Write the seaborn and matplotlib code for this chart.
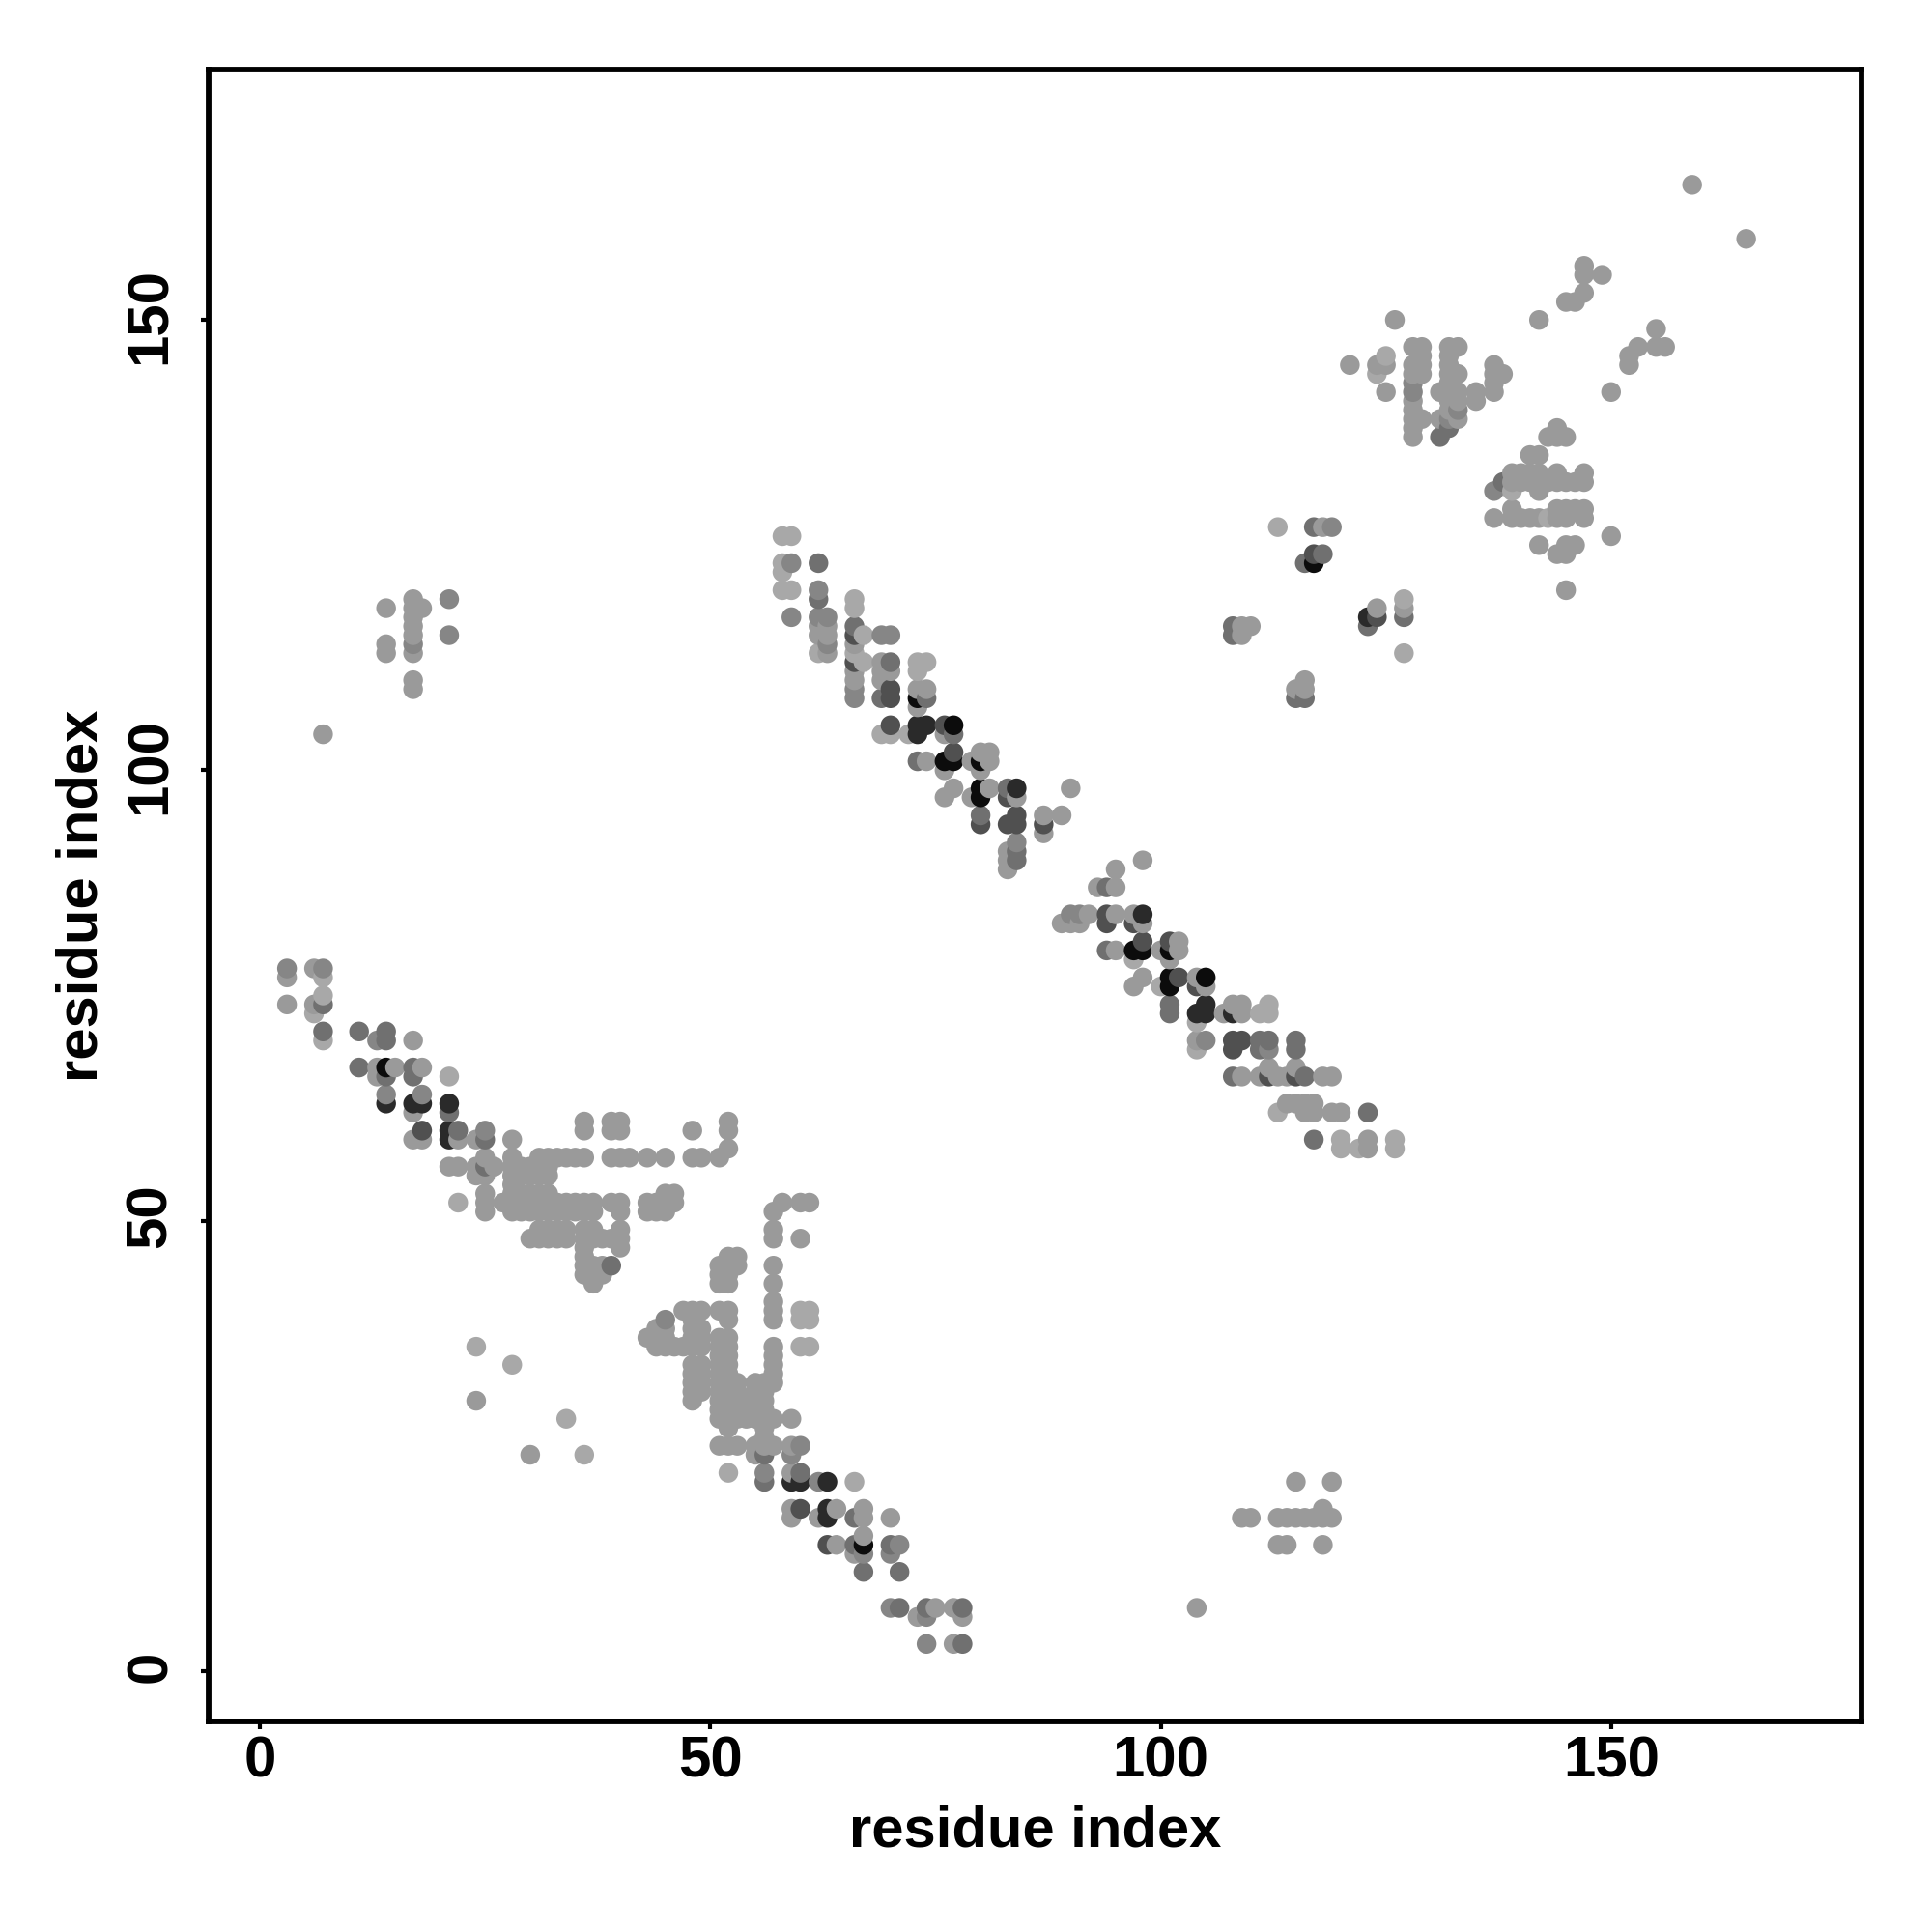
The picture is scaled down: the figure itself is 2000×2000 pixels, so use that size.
import pandas as pd
import matplotlib
matplotlib.use('Agg')
import matplotlib.pyplot as plt
from matplotlib.transforms import ScaledTranslation
import seaborn as sns

# contacts written as (residue y, [residues x]), one list per block of the map
left_block = [
    (78, [3, 6, 7]), (77, [3, 7]), (75, [7]), (74, [3, 6, 7]), (73, [6]),
    (71, [7, 11, 14]), (70, [7, 13, 14, 17]), (67, [11, 13, 14, 15, 17, 18]),
    (66, [13, 14, 17, 21]), (64, [14, 18]), (63, [14, 17, 18, 21]), (62, [17, 21]),
    (61, [36, 39, 40, 52]), (60, [18, 21, 22, 25, 36, 39, 40, 48, 52]),
    (59, [17, 18, 21, 22, 24, 25, 28]), (58, [52]),
    (57, [25, 28, 31, 32, 33, 34, 35, 36, 39, 40, 41, 43, 45, 48, 49, 51]),
    (56, [21, 22, 24, 25, 26, 28, 29, 30, 31, 32]),
    (55, [24, 25, 28, 29, 30, 31, 32]), (54, [28]),
    (53, [25, 28, 29, 30, 31, 32, 45, 46]),
    (52, [22, 25, 27, 28, 29, 30, 31, 32, 33, 34, 35, 36, 37, 39, 40, 43, 44, 45, 46]),
    (51, [25, 28, 29, 30, 31, 32, 33, 34, 35, 36, 37, 40, 43, 44, 45]),
    (49, [31, 32, 33, 34, 36, 37, 40]),
    (48, [30, 31, 32, 33, 34, 36, 37, 38, 39, 40]),
    (47, [36, 40]), (46, [36]), (45, [36, 37, 38, 39]), (44, [36, 37, 38]), (43, [37]),
]

lower_block = [
    (52, [58, 60, 61]), (51, [57]), (49, [57]), (48, [57, 60]), (46, [52, 53]),
    (45, [51, 52, 53, 57]), (44, [51, 52]), (43, [51, 52, 57]), (41, [57]),
    (40, [47, 48, 49, 51, 52, 57, 60, 61]), (39, [45, 48, 52, 57, 60, 61]),
    (38, [44, 45, 48, 49]), (37, [43, 44, 45, 48, 49, 51, 52]),
    (36, [24, 44, 45, 46, 47, 48, 49, 51, 52, 57, 60, 61]), (35, [51, 52, 57]),
    (34, [28, 48, 49, 51, 52, 57]), (33, [48, 49, 51, 52, 57]),
    (32, [48, 49, 51, 52, 53, 55, 56, 57]), (31, [48, 49, 51, 52, 53, 55, 56]),
    (30, [24, 48, 51, 52, 53, 54, 55, 56]), (29, [51, 52, 53, 54, 55, 56]),
    (28, [34, 51, 52, 53, 54, 55, 56, 57, 59]), (27, [52, 56]), (26, [56]),
    (25, [51, 52, 53, 55, 56, 57, 59, 60]), (24, [30, 36, 55, 56, 59]),
    (22, [52, 56, 59, 60]), (21, [56, 59, 60, 62, 63, 66]),
    (18, [59, 60, 63, 64, 67]), (17, [59, 62, 63, 66, 67, 70]), (15, [67]),
    (14, [63, 64, 66, 67, 70, 71]), (13, [66, 67, 70]), (11, [67, 71]),
    (7, [70, 71, 74, 75, 77, 78]), (6, [73, 74, 78]), (3, [74, 77, 78]),
]

upper_left_block = [
    (119, [17, 21]), (118, [14, 17, 18]), (117, [17]), (116, [17]), (115, [17, 21]),
    (114, [14, 17]), (113, [14, 17]), (110, [17]), (109, [17]), (104, [7]),
]

middle_band = [
    (126, [58, 59]), (123, [58, 59, 62]), (122, [58]), (120, [58, 59, 62]), (119, [62, 66]),
    (118, [66]), (117, [59, 62, 63]), (116, [62, 63, 66]), (115, [62, 63, 66, 67, 69, 70]),
    (114, [63, 66]), (113, [62, 63, 66]), (112, [66, 67, 69, 70, 73, 74]),
    (111, [66, 69, 70, 73]), (110, [66, 69]), (109, [66, 70, 73, 74]),
    (108, [66, 69, 70, 73, 74]), (107, [73]), (105, [70, 73, 74, 76, 77]),
    (104, [69, 70, 72, 73, 76, 77]), (102, [77, 80, 81]),
    (101, [73, 74, 76, 77, 79, 80, 81]), (100, [76, 80]),
    (98, [77, 80, 81, 83, 84, 90]), (97, [76, 79, 80, 83, 84]), (95, [80, 84, 87, 89]),
    (94, [80, 83, 84, 87]), (93, [87]), (92, [84]), (91, [83, 84]), (90, [83, 84, 98]),
    (89, [83, 95]), (87, [93, 94, 95]), (84, [90, 91, 92, 94, 95, 97, 98]),
    (83, [89, 90, 91, 94, 97, 98]), (81, [98, 101, 102]),
    (80, [94, 95, 97, 98, 100, 101, 102]), (79, [97, 101]),
    (77, [98, 101, 102, 104, 105]), (76, [97, 100, 101, 104, 105]),
    (74, [101, 105, 108, 109, 112]), (73, [101, 104, 105, 107, 108, 109, 111, 112]),
    (72, [104]), (70, [104, 105, 108, 109, 111, 112, 115]), (69, [104, 108, 111, 112, 115]),
    (67, [112, 115]), (66, [108, 109, 111, 112, 113, 114, 115, 116, 118, 119]),
    (63, [114, 115, 116, 117]), (62, [113, 116, 117, 119, 120, 123]),
    (59, [117, 120, 123, 126]), (58, [120, 122, 123, 126]),
]

right_block = [
    (165, [159]), (159, [165]), (156, [147]), (155, [147, 149]), (153, [147]),
    (152, [145, 146]), (150, [126, 142]), (149, [155]), (147, [128, 129, 132, 133, 153, 155, 156]),
    (146, [125, 129, 132, 152]), (145, [121, 124, 125, 128, 129, 132, 137, 152]),
    (144, [124, 128, 129, 132, 133, 137, 138]), (143, [128, 132, 137]),
    (142, [125, 128, 131, 132, 133, 135, 137, 150]), (141, [128, 132, 133, 135]),
    (140, [128, 132, 133]), (139, [128, 129, 131, 132, 133]), (138, [128, 132, 144]),
    (137, [128, 131, 143, 144, 145]), (135, [141, 142]),
    (133, [139, 140, 141, 142, 144, 147]),
    (132, [138, 139, 140, 141, 142, 143, 144, 145, 146, 147]), (131, [137, 139, 142]),
    (129, [139, 144, 145, 146, 147]), (128, [137, 139, 140, 141, 142, 143, 144, 145, 147]),
    (127, [113, 117, 118, 119]), (126, [150]), (125, [142, 145, 146]), (124, [117, 118, 144, 145]),
    (123, [116, 117]), (120, [145]), (119, [127]), (118, [124, 127]), (117, [123, 124, 127]),
    (116, [108, 109, 110, 123]), (115, [108, 109]), (113, [127]), (110, [116]),
    (109, [115, 116]), (108, [115, 116]),
    (21, [115, 119]), (18, [118]), (17, [109, 110, 113, 114, 115, 116, 117, 118, 119]),
    (14, [113, 114, 118]), (7, [104]),
]

# grey level of the points that differ from the common mid grey
black_pts = [(14, 67), (67, 14), (77, 105), (76, 101), (77, 101), (80, 101), (80, 98),
             (97, 80), (98, 80), (101, 80), (101, 77), (101, 76), (105, 77), (117, 123),
             (80, 97), (73, 108)]
near_black_pts = [(14, 63), (17, 63), (18, 63), (21, 63), (21, 60), (21, 59), (59, 21),
                  (60, 21), (63, 21), (63, 18), (63, 17), (73, 105), (74, 105), (73, 104),
                  (84, 98), (98, 84), (105, 74), (105, 73), (104, 73), (108, 73), (123, 117)]
dark_pts = [(18, 60), (60, 18), (63, 14), (70, 108), (70, 109), (76, 105), (77, 102),
            (83, 94), (84, 94), (83, 97), (94, 84), (94, 83), (97, 83), (102, 77), (104, 76),
            (108, 70), (109, 70), (108, 69), (117, 124), (124, 117), (87, 94), (80, 94),
            (112, 66), (115, 66), (84, 95), (101, 81), (98, 81), (70, 105), (66, 115), (66, 112)]
grey_dark_pts = [(11, 67), (11, 71), (14, 70), (14, 66), (17, 67), (17, 66), (7, 74), (21, 62),
                 (22, 60), (25, 59), (25, 56), (56, 21), (67, 11), (71, 11), (66, 17), (66, 14),
                 (70, 14), (71, 7), (74, 7), (60, 22), (62, 123), (62, 119),
                 (70, 112), (69, 108), (74, 108), (66, 116),
                 (77, 104), (73, 101), (76, 98), (83, 98), (94, 87), (94, 80), (101, 73),
                 (104, 74), (108, 66), (111, 70), (112, 70), (111, 69), (115, 70), (115, 69),
                 (116, 66), (117, 59), (116, 123), (118, 124), (117, 127), (108, 116), (108, 115),
                 (115, 108), (116, 108), (123, 116), (127, 117), (138, 132), (132, 138),
                 (131, 137), (39, 45), (7, 71), (14, 71), (80, 95), (83, 95), (84, 90), (84, 91),
                 (17, 60), (101, 74), (115, 62), (123, 62), (56, 24), (60, 21), (78, 7), (78, 3)]
grey_pts = [(3, 78), (7, 78), (13, 70), (14, 64), (18, 64), (25, 60), (62, 21), (59, 24), (60, 25),
            (56, 22), (62, 120), (59, 123), (59, 117), (63, 117), (62, 117), (63, 114), (69, 115),
            (70, 115), (45, 39), (70, 7), (66, 108), (66, 109),
            (67, 13), (70, 13), (71, 14), (90, 84), (91, 84), (105, 70), (112, 69), (74, 3),
            (74, 6), (84, 92), (133, 140), (132, 139),
            (128, 143), (128, 142), (137, 131), (21, 119), (21, 115), (17, 114), (119, 127)]
light_pts = [(7, 77), (7, 75), (7, 70), (6, 73), (21, 66), (22, 52), (58, 126), (59, 126),
             (58, 123), (58, 122), (58, 120), (59, 120), (66, 119), (66, 118), (67, 115),
             (67, 112), (73, 112), (74, 112), (73, 111), (69, 104), (70, 104), (72, 104),
             (62, 113), (66, 113), (100, 76), (97, 79), (111, 73), (112, 74), (112, 73), (104, 72),
             (104, 69), (113, 62), (120, 59), (120, 58), (122, 58), (126, 59), (126, 58),
             (66, 21), (52, 22), (24, 36), (28, 34), (36, 24), (34, 28), (127, 119), (127, 113),
             (113, 127), (125, 146), (124, 144), (139, 131), (143, 128), (61, 36), (60, 36),
             (60, 40), (61, 40), (60, 39), (61, 39), (14, 115)]

tick_vals = [0, 50, 100, 150]
tick_labels = ['0', '50', '100', '150']

greys = {'black': '#0c0c0c', 'near_black': '#2a2a2a', 'dark': '#505050', 'grey_dark': '#707070',
         'grey': '#868686', 'mid': '#9a9a9a', 'light': '#a8a8a8'}

# build the table of contacts
records = []
for block in [left_block, lower_block, upper_left_block, middle_band, right_block]:
    for y, xs in block:
        for x in xs:
            records.append((x, y))
df = pd.DataFrame(records, columns=['x', 'y']).drop_duplicates()
df['shade'] = 'mid'
overrides = {'light': light_pts, 'grey': grey_pts, 'grey_dark': grey_dark_pts, 'dark': dark_pts,
             'near_black': near_black_pts, 'black': black_pts}
for shade, pts in overrides.items():
    for x, y in pts:
        df.loc[(df['x'] == x) & (df['y'] == y), 'shade'] = shade
# the overlap in the picture follows residue order
df = df.sort_values(['x', 'y'])

sns.set_theme(style='white')
plt.rcParams['font.family'] = ['Liberation Sans', 'DejaVu Sans']

fig = plt.figure(figsize=(10, 10), dpi=200)
ax = fig.add_axes([0.108, 0.109, 0.8555, 0.855])
sns.scatterplot(data=df, x='x', y='y', hue='shade', palette=greys, s=54, linewidth=0,
                legend=False, ax=ax)

ax.set_xlim(-5.7, 177.8)
ax.set_ylim(-5.6, 177.8)
ax.set_xticks(tick_vals)
ax.set_xticklabels(tick_labels, fontsize=21.6, fontweight='bold', color='black')
ax.set_yticks(tick_vals)
ax.set_yticklabels(tick_labels, fontsize=21.6, fontweight='bold', color='black',
                   rotation=90, va='center')
ax.tick_params(axis='both', bottom=True, left=True, length=3, width=1.5, color='black')
ax.tick_params(axis='x', pad=2.2)
ax.tick_params(axis='y', pad=8.5)
# rotated labels sit a little low otherwise, has to come after tick_params
nudge = ScaledTranslation(0, 4.5 / 200, fig.dpi_scale_trans)
for label in ax.get_yticklabels():
    label.set_transform(label.get_transform() + nudge)
ax.set_xlabel('residue index', fontsize=21.5, fontweight='bold', color='black', labelpad=6)
ax.set_ylabel('residue index', fontsize=21.5, fontweight='bold', color='black', labelpad=6)
for side in ax.spines.values():
    side.set_visible(True)
    side.set_color('black')
    side.set_linewidth(2.1)

fig.savefig('out.png', dpi=200, facecolor='white')
